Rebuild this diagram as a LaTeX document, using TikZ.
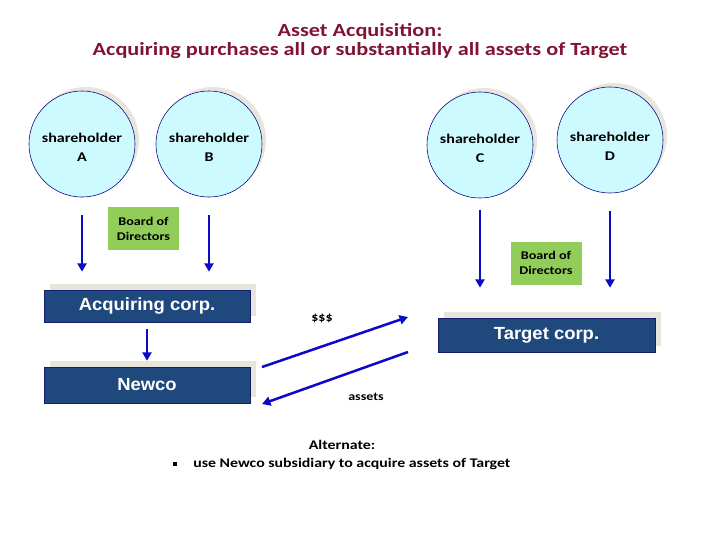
\documentclass[tikz,border=0pt]{standalone}
\usepackage{fontspec}
\setmainfont[FakeStretch=1.2]{Carlito}
\newfontfamily\corpfont[FakeStretch=1.05]{Liberation Sans}
\usepackage{tikz}
\usetikzlibrary{arrows.meta}
\usetikzlibrary{shadows,positioning}

\definecolor{titlered}{RGB}{128,20,50}
\definecolor{holderfill}{RGB}{205,250,255}
\definecolor{holderline}{RGB}{0,0,130}
\definecolor{boardgreen}{RGB}{146,205,90}
\definecolor{corpblue}{RGB}{31,73,125}
\definecolor{corpline}{RGB}{20,30,110}
\definecolor{flowblue}{RGB}{10,10,200}
\definecolor{shadebeige}{RGB}{232,229,220}

\begin{document}
\begin{tikzpicture}[x=0.025cm,y=-0.025cm,
    holder/.style={circle,draw=holderline,thin,fill=holderfill,minimum size=2.65cm,inner sep=0pt,
        align=center,font=\bfseries\fontsize{9.5}{13.5}\selectfont,
        general shadow={fill=shadebeige,shadow xshift=0.1cm,shadow yshift=0.1cm}},
    board/.style={fill=boardgreen,minimum width=1.775cm,minimum height=1.075cm,inner sep=0pt,
        align=center,font=\bfseries\fontsize{8.4}{10.6}\selectfont},
    corp/.style={draw=corpline,thin,fill=corpblue,text=white,inner sep=0pt,
        font=\corpfont\bfseries\fontsize{12.5}{14}\selectfont,
        general shadow={fill=shadebeige,shadow xshift=0.15cm,shadow yshift=0.15cm}},
    flow/.style={draw=flowblue,line width=1.8pt,-{Triangle[length=6pt,width=6.5pt]}},
    note/.style={font=\bfseries\fontsize{8.3}{10}\selectfont}]

    \useasboundingbox (0,0) rectangle (720,540);

    % title
    \node[text=titlered,align=center,font=\bfseries\fontsize{13.2}{13.5}\selectfont] (title) at (360,41)
        {Asset Acquisition:\\Acquiring purchases all or substantially all assets of Target};

    % shareholders
    \foreach \n/\x/\y/\h in {A/82/144/11,B/209/144/11,C/480/145/12,D/610/140/16}
        \node[holder] (sh\n) at (\x,\y) {\rule{0pt}{\h pt}shareholder\\\n};

    \node[board] (boardL) at (143.5,228.5) {Board of\\Directors};
    \node[board] (boardR) at (546,263) {Board of\\Directors};

    % corporations
    \node[corp,minimum width=5.15cm,minimum height=0.8cm] (acq) at (147,306) {Acquiring corp.};
    \node[corp,minimum width=5.15cm,minimum height=0.9cm] (newco) at (147,385) {Newco};
    \node[corp,minimum width=5.425cm,minimum height=0.85cm] (tgt) at (546.5,335) {Target corp.};

    \foreach \n/\s/\e/\c in {A/0.45/0.45/acq,B/0.45/0.45/acq,C/0.3/0.75/tgt,D/0.45/0.75/tgt}
        \draw[flow,shorten <=\s cm,shorten >=\e cm] (sh\n.south) -- (sh\n.south |- \c.north);

    \draw[flow,shorten <=0.175cm,shorten >=0.15cm] (acq) -- (newco);

    % money and assets
    \coordinate (payS) at (262,367);
    \coordinate (payE) at (408,317);
    \coordinate (astS) at (408,352);
    \coordinate (astE) at (262,404);
    \draw[flow] (payS) -- (payE);
    \draw[flow] (astS) -- (astE);
    \node[note] (dollars) at (322,318) {\$\$\$};
    \node[note] (assets) at (366,397) {assets};

    % alternate
    \node[anchor=base,font=\bfseries\fontsize{9.4}{12}\selectfont] (alt) at (342,449) {Alternate:};
    \node[fill,inner sep=0pt,minimum size=3pt] (bullet) at (175,464) {};
    \node[anchor=base west,inner sep=0pt,font=\bfseries\fontsize{9.4}{12}\selectfont] (altText) at (193,467)
        {use Newco subsidiary to acquire assets of Target};
\end{tikzpicture}
\end{document}
